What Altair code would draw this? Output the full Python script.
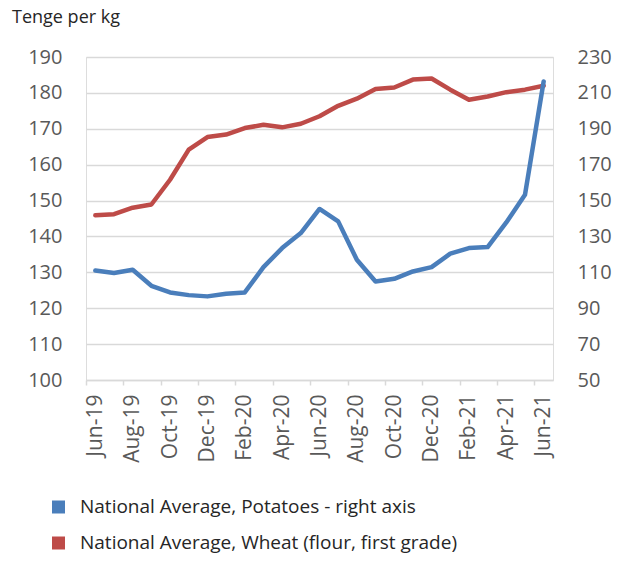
import altair as alt
import pandas as pd

months = ["Jun-19", "Jul-19", "Aug-19", "Sep-19", "Oct-19", "Nov-19", "Dec-19",
          "Jan-20", "Feb-20", "Mar-20", "Apr-20", "May-20", "Jun-20", "Jul-20",
          "Aug-20", "Sep-20", "Oct-20", "Nov-20", "Dec-20", "Jan-21", "Feb-21",
          "Mar-21", "Apr-21", "May-21", "Jun-21"]
potatoes = [111.0, 109.6, 111.4, 102.5, 98.8, 97.3, 96.6, 98.1, 98.8, 112.9,
            123.5, 131.9, 145.3, 138.4, 117.0, 104.9, 106.4, 110.5, 112.9,
            120.4, 123.5, 124.1, 137.8, 153.2, 216.4]
wheat = [145.9, 146.2, 148.0, 148.9, 155.8, 164.2, 167.7, 168.4, 170.2, 171.1,
         170.4, 171.4, 173.5, 176.4, 178.4, 181.1, 181.5, 183.7, 184.0, 180.9,
         178.1, 179.0, 180.2, 180.9, 182.0]
tick_labels = months[::2]
series_names = ["National Average, Potatoes - right axis",
                "National Average, Wheat (flour, first grade)"]
series_colors = ["#4A7EBB", "#BE4B48"]
left_ticks = list(range(100, 191, 10))
right_ticks = list(range(50, 231, 20))

df = pd.DataFrame({
    "month": months * 2,
    "series": [series_names[0]] * len(months) + [series_names[1]] * len(months),
    "value": potatoes + wheat,
})

FONT = "Open Sans"
TXT = "#595959"
GRID = "#D9D9D9"
HALF_BAND = 467 / 25 / 2

x_enc = alt.X(
    "month:O", sort=months, title=None,
    scale=alt.Scale(paddingInner=0, paddingOuter=0),
    axis=alt.Axis(values=tick_labels, tickOffset=-HALF_BAND,
                  labelOffset=HALF_BAND,
                  labelAngle=-90, labelFontSize=21, labelColor=TXT,
                  labelFont=FONT, labelPadding=9, tickSize=5,
                  tickColor=GRID, tickWidth=1.5, domainColor=GRID,
                  domainWidth=1.5, grid=False),
)

color_enc = alt.Color(
    "series:N",
    scale=alt.Scale(domain=series_names, range=series_colors),
    legend=alt.Legend(title=None, orient="none", legendX=-37, legendY=440,
                      direction="vertical", symbolType="square",
                      symbolSize=36, symbolStrokeWidth=7,
                      labelFontSize=19, labelFont=FONT, labelColor="#262626",
                      labelOffset=12, rowPadding=16, clipHeight=20,
                      labelLimit=600),
)

wheat_layer = alt.Chart(df).transform_filter(
    alt.datum.series == series_names[1]
).mark_line(strokeWidth=4.5, strokeCap="round", strokeJoin="round").encode(
    x=x_enc,
    y=alt.Y("value:Q", scale=alt.Scale(domain=[100, 190], nice=False, zero=False),
            axis=alt.Axis(values=left_ticks, title=None, labelFontSize=20,
                          labelFont=FONT, labelColor=TXT, labelPadding=24,
                          domain=False, ticks=False, grid=True,
                          gridColor=GRID, gridWidth=1.5)),
    color=color_enc,
)

potato_layer = alt.Chart(df).transform_filter(
    alt.datum.series == series_names[0]
).mark_line(strokeWidth=4.5, strokeCap="round", strokeJoin="round").encode(
    x=x_enc,
    y=alt.Y("value:Q", scale=alt.Scale(domain=[50, 230], nice=False, zero=False),
            axis=alt.Axis(values=right_ticks, title=None, orient="right",
                          labelFontSize=20, labelFont=FONT, labelColor=TXT,
                          labelPadding=24, domain=False, ticks=False,
                          grid=False)),
    color=color_enc,
)

chart = alt.layer(wheat_layer, potato_layer).resolve_scale(
    y="independent"
).properties(
    width=467, height=323,
    title=alt.TitleParams("Tenge per kg", anchor="start", frame="group",
                          dx=-74, dy=9, offset=15, baseline="alphabetic",
                          fontSize=18, fontWeight="normal", font=FONT,
                          color="#262626"),
    autosize=alt.AutoSizeParams(type="none"),
    padding={"left": 78, "top": 49, "right": 64, "bottom": 173},
).configure_view(stroke=None).configure(background="white")

chart.save("out.html", embed_options={"renderer": "svg", "actions": False})
